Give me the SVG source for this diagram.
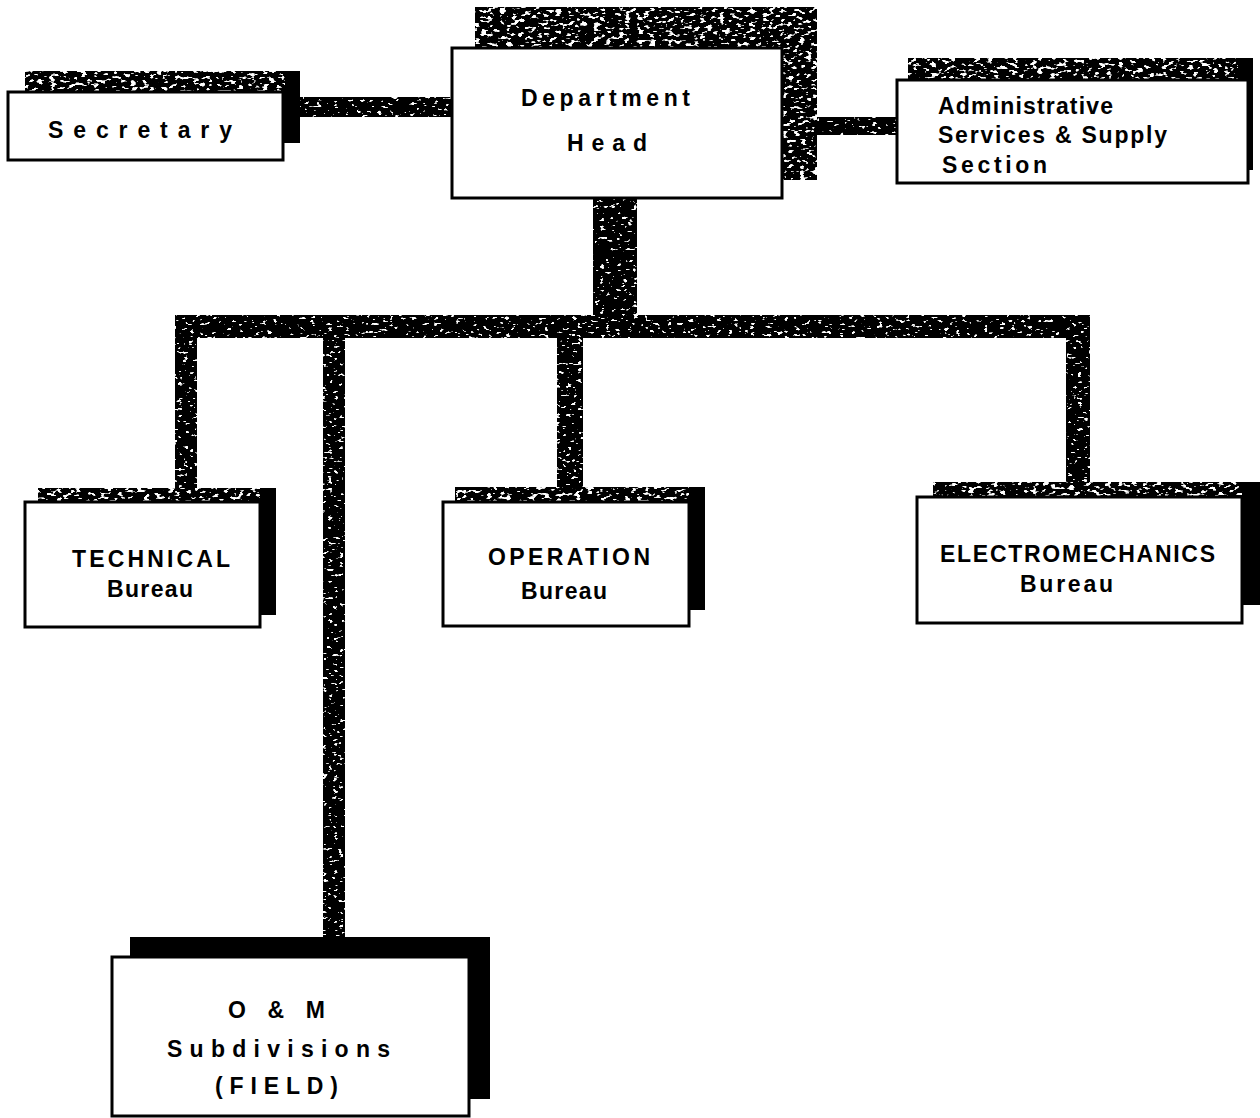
<svg xmlns="http://www.w3.org/2000/svg" width="1260" height="1118" viewBox="0 0 1260 1118">
  <style>
    .front { fill: #ffffff; stroke: #000000; stroke-width: 3; }
    .shadow { fill: #000000; }
    .bar { fill: #000000; filter: url(#grain); }
    .strip { fill: #000000; filter: url(#grain-heavy); }
    .label { font-family: "Liberation Sans", Arial, sans-serif; font-weight: bold; font-size: 23px; fill: #000000; }
  </style>
  <defs>
    <!-- white flecks over solid black: printed speckle texture -->
    <filter id="grain" x="0" y="0" width="1" height="1">
      <feTurbulence type="fractalNoise" baseFrequency="0.18 0.35" numOctaves="2" seed="4" result="noise"/>
      <feColorMatrix in="noise" type="matrix" values="0 0 0 0 1  0 0 0 0 1  0 0 0 0 1  16 0 0 0 -10.4" result="flecks"/>
      <feComposite in="flecks" in2="SourceAlpha" operator="in" result="clipped"/>
      <feMerge><feMergeNode in="SourceGraphic"/><feMergeNode in="clipped"/></feMerge>
    </filter>
    <filter id="grain-heavy" x="0" y="0" width="1" height="1">
      <feTurbulence type="fractalNoise" baseFrequency="0.16 0.3" numOctaves="2" seed="9" result="noise"/>
      <feColorMatrix in="noise" type="matrix" values="0 0 0 0 1  0 0 0 0 1  0 0 0 0 1  14 0 0 0 -8.2" result="flecks"/>
      <feComposite in="flecks" in2="SourceAlpha" operator="in" result="clipped"/>
      <feMerge><feMergeNode in="SourceGraphic"/><feMergeNode in="clipped"/></feMerge>
    </filter>
  </defs>

  <rect width="1260" height="1118" fill="#ffffff"/>

  <!-- connectors -->
  <g id="connectors">
    <rect class="bar" x="280" y="97" width="175" height="20"/>
    <rect class="bar" x="815" y="117" width="85" height="18"/>
    <rect class="bar" x="593" y="196" width="44" height="125"/>
    <rect class="bar" x="175" y="315" width="915" height="23"/>
    <rect class="bar" x="175" y="315" width="22" height="180"/>
    <rect class="bar" x="323" y="330" width="22" height="612"/>
    <rect class="bar" x="557" y="330" width="26" height="160"/>
    <rect class="bar" x="1066" y="315" width="24" height="172"/>
  </g>

  <!-- Secretary -->
  <g id="secretary">
    <rect class="shadow" x="25" y="71" width="275" height="72"/>
    <rect class="strip" x="25" y="71" width="260" height="21"/>
    <rect class="front" x="8" y="92" width="275" height="68"/>
    <text class="label" x="48" y="138" textLength="184" lengthAdjust="spacing">Secretary</text>
  </g>

  <!-- Department Head -->
  <g id="department-head">
    <rect class="strip" x="475" y="7" width="342" height="173"/>
    <rect class="front" x="452" y="48" width="330" height="150"/>
    <text class="label" x="521" y="106" textLength="169" lengthAdjust="spacing">Department</text>
    <text class="label" x="567" y="151" textLength="80" lengthAdjust="spacing">Head</text>
  </g>

  <!-- Administrative Services & Supply Section -->
  <g id="admin-services">
    <rect class="shadow" x="908" y="58" width="345" height="112"/>
    <rect class="strip" x="908" y="58" width="330" height="22"/>
    <rect class="front" x="897" y="80" width="351" height="103"/>
    <text class="label" x="938" y="114" textLength="175" lengthAdjust="spacing">Administrative</text>
    <text class="label" x="938" y="143" textLength="229" lengthAdjust="spacing">Services &amp; Supply</text>
    <text class="label" x="942" y="173" textLength="105" lengthAdjust="spacing">Section</text>
  </g>

  <!-- Technical Bureau -->
  <g id="technical-bureau">
    <rect class="shadow" x="38" y="488" width="238" height="127"/>
    <rect class="strip" x="38" y="488" width="222" height="14"/>
    <rect class="front" x="25" y="502" width="235" height="125"/>
    <text class="label" x="72" y="567" textLength="158" lengthAdjust="spacing">TECHNICAL</text>
    <text class="label" x="107" y="597" textLength="86" lengthAdjust="spacing">Bureau</text>
  </g>

  <!-- Operation Bureau -->
  <g id="operation-bureau">
    <rect class="shadow" x="455" y="487" width="250" height="123"/>
    <rect class="strip" x="455" y="487" width="234" height="15"/>
    <rect class="front" x="443" y="502" width="246" height="124"/>
    <text class="label" x="488" y="565" textLength="162" lengthAdjust="spacing">OPERATION</text>
    <text class="label" x="521" y="599" textLength="86" lengthAdjust="spacing">Bureau</text>
  </g>

  <!-- Electromechanics Bureau -->
  <g id="electromechanics-bureau">
    <rect class="shadow" x="933" y="482" width="327" height="123"/>
    <rect class="strip" x="933" y="482" width="309" height="15"/>
    <rect class="front" x="917" y="497" width="325" height="126"/>
    <text class="label" x="940" y="562" textLength="275" lengthAdjust="spacing">ELECTROMECHANICS</text>
    <text class="label" x="1020" y="592" textLength="93" lengthAdjust="spacing">Bureau</text>
  </g>

  <!-- O & M Subdivisions (FIELD) -->
  <g id="om-subdivisions">
    <rect class="shadow" x="130" y="937" width="360" height="162"/>
    <rect class="front" x="112" y="957" width="357" height="159"/>
    <text class="label" x="228" y="1018" textLength="97" lengthAdjust="spacing">O &amp; M</text>
    <text class="label" x="167" y="1057" textLength="223" lengthAdjust="spacing">Subdivisions</text>
    <text class="label" x="215" y="1094" textLength="123" lengthAdjust="spacing">(FIELD)</text>
  </g>
</svg>
